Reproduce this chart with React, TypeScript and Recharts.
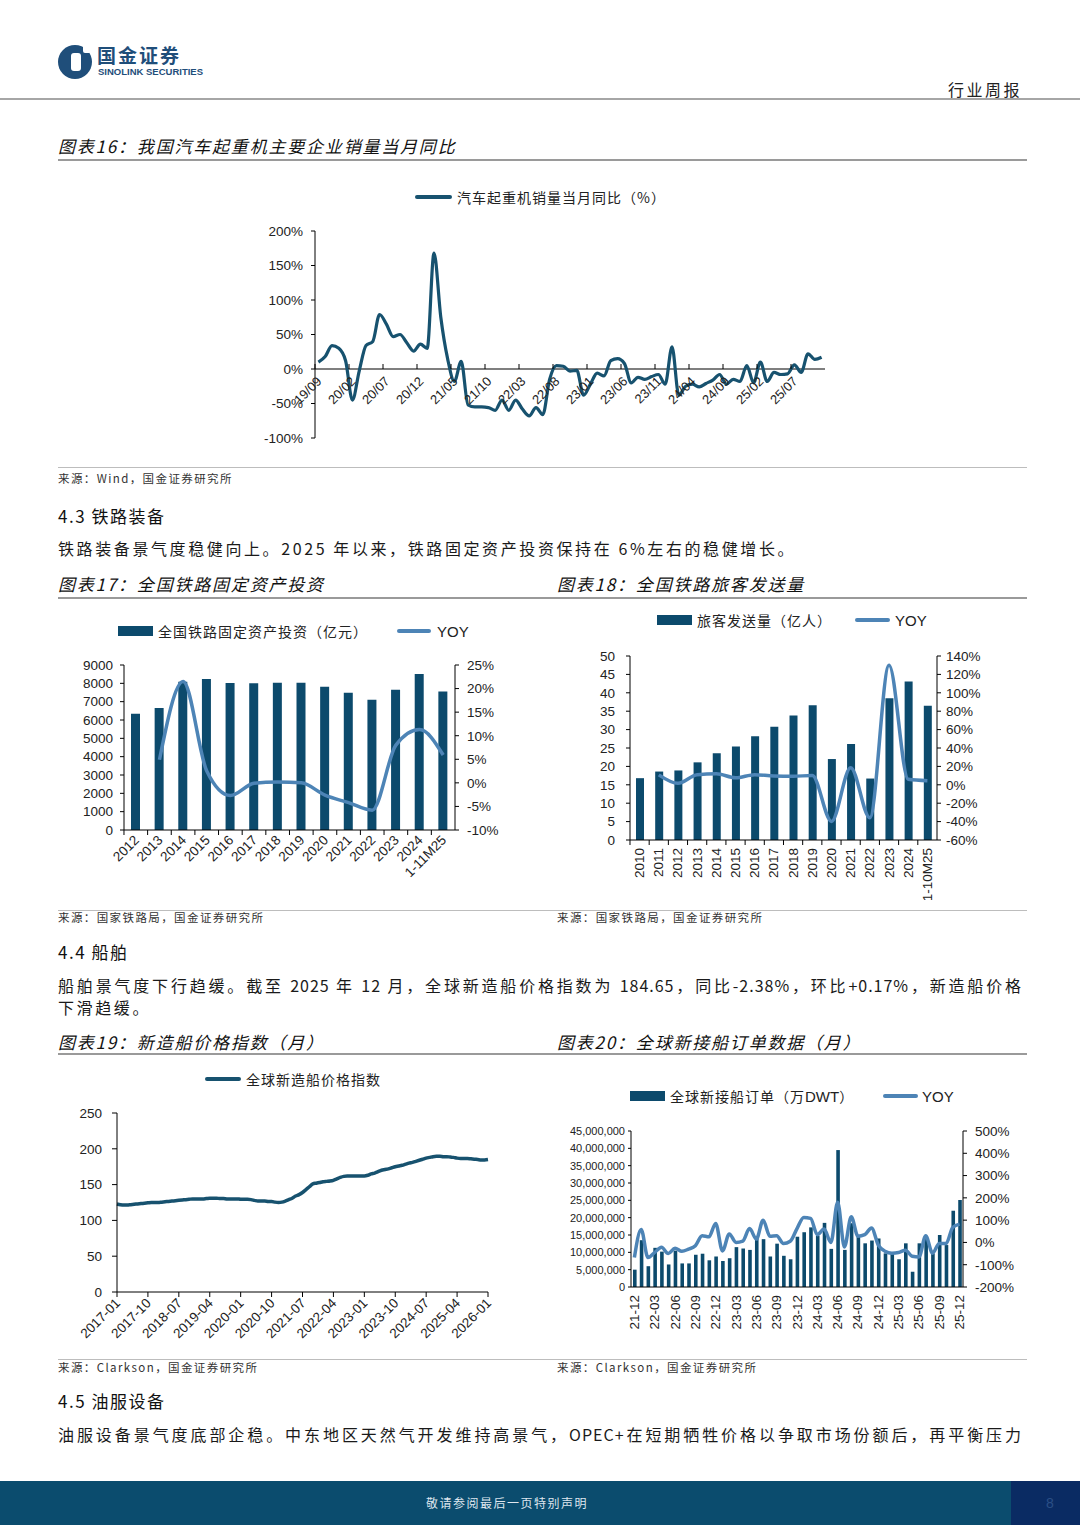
import React from 'react'
import { ComposedChart, Bar, Line, XAxis, YAxis, ReferenceLine } from 'recharts'

const CJK = '"Noto Sans CJK SC", "Noto Sans", sans-serif'
const NUM = '"Liberation Sans", Arial, sans-serif'
const LINE_DARK = '#17526f'
const BAR_DARK = '#0c4a6c'
const YOY_BLUE = '#4d84b6'

const monthSeq = (y0: number, m0: number, n: number, longYear: boolean, sep: string) => {
  const out: string[] = []
  for (let i = 0; i < n; i++) {
    const t = (y0 * 12 + (m0 - 1)) + i
    const y = Math.floor(t / 12)
    const m = (t % 12) + 1
    const ys = longYear ? String(y) : String(y % 100).padStart(2, '0')
    out.push(ys + sep + String(m).padStart(2, '0'))
  }
  return out
}

// 图表16 汽车起重机销量当月同比 (19/09 - 25/11)
const craneMonths = monthSeq(2019, 9, 75, false, '/')
const craneYoy = [
  10, 18, 34, 30, 12, -45, -3, 34, 40, 79,
  65, 47, 50, 38, 26, 36, 30, 168, 75, 15,
  -18, 11, -52, -55, -55, -56, -60, -45, -60, -45,
  -58, -68, -56, -66, -15, 5, 4, -3, -2, -38,
  -22, -6, -10, 12, 15, 8, -20, -12, -15, -11,
  -8, -22, 32, -38, -25, -22, -26, -21, -16, -8,
  -22, -15, -18, 5, -20, 10, -18, -5, -8, -7,
  6, -5, 22, 14, 17,
]
const craneTicks = [-100, -50, 0, 50, 100, 150, 200]

// 图表17 全国铁路固定资产投资
const invYears = ['2012', '2013', '2014', '2015', '2016', '2017', '2018', '2019', '2020', '2021', '2022', '2023', '2024', '1-11M25']
const invValues = [6340, 6650, 8088, 8238, 8015, 8010, 8028, 8029, 7819, 7489, 7109, 7645, 8506, 7550]
const invYoy = [null, 4.9, 21.5, 2.5, -2.7, -0.1, 0.2, 0.0, -2.6, -4.2, -5.8, 8.0, 11.3, 5.9]
const invLeftTicks = [0, 1000, 2000, 3000, 4000, 5000, 6000, 7000, 8000, 9000]
const invRightTicks = [-10, -5, 0, 5, 10, 15, 20, 25]

// 图表18 全国铁路旅客发送量
const paxYears = ['2010', '2011', '2012', '2013', '2014', '2015', '2016', '2017', '2018', '2019', '2020', '2021', '2022', '2023', '2024', '1-10M25']
const paxValues = [16.8, 18.6, 18.9, 21.1, 23.6, 25.4, 28.2, 30.8, 33.8, 36.6, 22.0, 26.1, 16.7, 38.5, 43.1, 36.5]
const paxYoy = [null, 10.8, 1.6, 11.0, 12.0, 7.6, 11.0, 9.6, 9.4, 10.0, -39.8, 18.5, -35.9, 130.0, 6.0, 4.5]
const paxLeftTicks = [0, 5, 10, 15, 20, 25, 30, 35, 40, 45, 50]
const paxRightTicks = [-60, -40, -20, 0, 20, 40, 60, 80, 100, 120, 140]

// 图表19 新造船价格指数 (2017-01 - 2026-01)
const shipMonths = monthSeq(2017, 1, 109, true, '-')
const shipIndex = [
  123, 122, 121.5, 121.5, 122, 122.5, 123, 123.5, 124, 124.5,
  125, 125, 125, 125.5, 126, 126.5, 127, 127.5, 128, 128.5,
  129, 129.5, 130, 130, 130, 130, 130.5, 131, 131, 131,
  130.5, 130.5, 130, 130, 130, 130, 129.5, 129.5, 129.5, 129,
  128, 127, 127, 127, 126.5, 126.5, 125.5, 125, 125.5, 127,
  129, 131, 134, 136, 139, 143, 147, 151, 152, 153,
  154, 154.5, 155, 156, 158, 160, 161.5, 162, 162, 162,
  162, 162, 162, 163, 165, 166, 168, 170, 171, 172,
  173.5, 175, 176, 177, 178.5, 180, 181, 182.5, 184, 185.5,
  187, 188, 189, 189.5, 189.5, 189, 189, 188.5, 188, 187,
  186.5, 186.5, 186.5, 186, 185.5, 185, 184.5, 184.5, 185,
]
const shipTicks = [0, 50, 100, 150, 200, 250]

// 图表20 全球新接船订单 (21-12 - 25-12)
const orderMonths = monthSeq(2021, 12, 49, false, '-')
const orderDwt = [
  5000000, 13500000, 6000000, 11300000, 10200000, 6500000, 10500000, 6800000, 6800000, 9300000,
  9600000, 7700000, 8800000, 7500000, 8300000, 11500000, 11100000, 10700000, 14500000, 13800000,
  8800000, 12500000, 9000000, 8000000, 14500000, 15800000, 17200000, 14800000, 18500000, 11000000,
  39500000, 10700000, 18400000, 14500000, 12600000, 13400000, 14000000, 9700000, 9700000, 8000000,
  12600000, 4400000, 12600000, 14000000, 9700000, 15000000, 12100000, 22000000, 25100000,
]
const orderYoy = [
  -68, 58, -68, -45, -22, -50, -26, -40, -30, -15,
  30, 25, 85, -38, 38, 0, 6, 62, 15, 100,
  28, 30, -5, 5, 62, 112, 108, 35, 60, 0,
  180, -20, 115, 28, 35, 65, -12, -40, -48, -45,
  -35, -62, -65, 30, -48, -5, -5, 68, 82,
]
const orderLeftTicks = [0, 5000000, 10000000, 15000000, 20000000, 25000000, 30000000, 35000000, 40000000, 45000000]
const orderRightTicks = [-200, -100, 0, 100, 200, 300, 400, 500]

const axisTick = { fontSize: 13.5, fill: '#222', fontFamily: NUM }

const CraneTick = (props: any) => {
  const { x, y, payload } = props
  const y0 = y - 69
  const bx = x - 3.4
  return (
    <g>
      <line x1={bx} x2={bx} y1={y0} y2={y0 - 5} stroke="#000" />
      <text x={x + 4} y={y0 + 13} transform={`rotate(-45, ${x + 4}, ${y0 + 13})`}
        textAnchor="end" fontSize={13} fill="#222" fontFamily={NUM}>{payload.value}</text>
    </g>
  )
}

const BandTick = (props: any) => {
  const { x, y, payload, index, bw, vertical, every = 1, mark = true } = props
  const bx = x - bw / 2
  const show = index % every === 0
  return (
    <g>
      {mark && <line x1={bx} x2={bx} y1={y} y2={y + 5} stroke="#000" />}
      {show && (vertical ? (
        <text x={x} y={y + 8} transform={`rotate(-90, ${x}, ${y + 8})`} textAnchor="end"
          dominantBaseline="central" fontSize={13.5} fill="#222" fontFamily={NUM}>{payload.value}</text>
      ) : (
        <text x={x + 4} y={y + 11} transform={`rotate(-45, ${x + 4}, ${y + 11})`} textAnchor="end"
          fontSize={13.5} fill="#222" fontFamily={NUM}>{payload.value}</text>
      ))}
    </g>
  )
}

const PointTick = (props: any) => {
  const { x, y, payload } = props
  return (
    <g>
      <line x1={x} x2={x} y1={y} y2={y + 5} stroke="#000" />
      <text x={x + 4} y={y + 12} transform={`rotate(-45, ${x + 4}, ${y + 12})`} textAnchor="end"
        fontSize={13.5} fill="#222" fontFamily={NUM}>{payload.value}</text>
    </g>
  )
}

const abs = (left: number, top: number, extra: React.CSSProperties = {}): React.CSSProperties => ({
  position: 'absolute', left, top, ...extra,
})

const Txt = ({ x, y, size, children, style }: any) => (
  <div style={{ position: 'absolute', left: x, top: y - size / 2, fontSize: size, lineHeight: `${size}px`, whiteSpace: 'nowrap', ...style }}>
    {children}
  </div>
)

const HLine = ({ y, x1 = 58, x2 = 1027, color = '#9a9a9a', h = 1.5 }: any) => (
  <div style={{ position: 'absolute', left: x1, top: y, width: x2 - x1, height: h, background: color }} />
)

const titleStyle = { fontStyle: 'italic', letterSpacing: '1.8px', color: '#111' }
const srcStyle = { letterSpacing: '1.4px', color: '#333' }
const bodyStyle = { letterSpacing: '2.6px', color: '#1a1a1a' }
const headStyle = { letterSpacing: '1.5px', color: '#111' }

const LegendLine = ({ x, y, color, w = 36 }: any) => (
  <div style={abs(x, y - 1.75, { width: w, height: 3.5, background: color, borderRadius: 2 })} />
)
const LegendBox = ({ x, y }: any) => (
  <div style={abs(x, y - 5, { width: 35, height: 10, background: BAR_DARK })} />
)

const CraneChart = () => {
  const data = craneMonths.map((m, i) => ({ m, v: craneYoy[i] }))
  return (
    <div style={abs(240, 220)}>
      <ComposedChart width={600} height={229} data={data} margin={{ top: 11, right: 15, bottom: 10, left: 15 }}>
        <XAxis dataKey="m" scale="band" interval={4} height={1} tickSize={0} tickMargin={0}
          axisLine={false} tick={<CraneTick />} />
        <YAxis domain={[-100, 200]} ticks={craneTicks} interval={0} width={60}
          tickFormatter={(v: number) => `${v}%`} axisLine={{ stroke: '#000' }} tickLine={{ stroke: '#000' }}
          tickSize={4} tickMargin={8} tick={axisTick} />
        <ReferenceLine y={0} stroke="#000" strokeWidth={1.2} />
        <Line dataKey="v" type="monotone" stroke={LINE_DARK} strokeWidth={3.2} dot={false} isAnimationActive={false} />
      </ComposedChart>
    </div>
  )
}

const InvestChart = () => {
  const data = invYears.map((y, i) => ({ y, inv: invValues[i], yoy: invYoy[i] }))
  return (
    <div style={abs(60, 650)}>
      <ComposedChart width={450} height={240} data={data} margin={{ top: 15, right: 5, bottom: 0, left: 4 }}>
        <XAxis dataKey="y" interval={0} height={60} tickSize={0} tickMargin={0}
          axisLine={{ stroke: '#000' }} tick={<BandTick bw={23.7} />} />
        <YAxis yAxisId="l" domain={[0, 9000]} ticks={invLeftTicks} interval={0} width={60}
          axisLine={{ stroke: '#000' }} tickLine={{ stroke: '#000' }} tickSize={4} tickMargin={7} tick={axisTick} />
        <YAxis yAxisId="r" orientation="right" domain={[-10, 25]} ticks={invRightTicks} interval={0} width={50}
          tickFormatter={(v: number) => `${v}%`} axisLine={{ stroke: '#000' }} tickLine={{ stroke: '#000' }}
          tickSize={4} tickMargin={8} tick={axisTick} />
        <Bar yAxisId="l" dataKey="inv" fill={BAR_DARK} barSize={9} isAnimationActive={false} />
        <Line yAxisId="r" dataKey="yoy" type="monotone" stroke={YOY_BLUE} strokeWidth={3.5} dot={false}
          connectNulls isAnimationActive={false} />
      </ComposedChart>
    </div>
  )
}

const PaxChart = () => {
  const data = paxYears.map((y, i) => ({ y, pax: paxValues[i], yoy: paxYoy[i] }))
  return (
    <div style={abs(575, 640)}>
      <ComposedChart width={422} height={260} data={data} margin={{ top: 16, right: 0, bottom: 0, left: 0 }}>
        <XAxis dataKey="y" interval={0} height={60} tickSize={0} tickMargin={0}
          axisLine={{ stroke: '#000' }} tick={<BandTick bw={19.2} vertical />} />
        <YAxis yAxisId="l" domain={[0, 50]} ticks={paxLeftTicks} interval={0} width={55}
          axisLine={{ stroke: '#000' }} tickLine={{ stroke: '#000' }} tickSize={4} tickMargin={11} tick={axisTick} />
        <YAxis yAxisId="r" orientation="right" domain={[-60, 140]} ticks={paxRightTicks} interval={0} width={60}
          tickFormatter={(v: number) => `${v}%`} axisLine={{ stroke: '#000' }} tickLine={{ stroke: '#000' }}
          tickSize={4} tickMargin={5} tick={axisTick} />
        <Bar yAxisId="l" dataKey="pax" fill={BAR_DARK} barSize={8} isAnimationActive={false} />
        <Line yAxisId="r" dataKey="yoy" type="monotone" stroke={YOY_BLUE} strokeWidth={3.5} dot={false}
          connectNulls isAnimationActive={false} />
      </ComposedChart>
    </div>
  )
}

const ShipIndexChart = () => {
  const data = shipMonths.map((m, i) => ({ m, v: shipIndex[i] }))
  return (
    <div style={abs(57, 1100)}>
      <ComposedChart width={443} height={252} data={data} margin={{ top: 13, right: 12, bottom: 0, left: 0 }}>
        <XAxis dataKey="m" interval={8} height={60} tickSize={0} tickMargin={0} padding={{ left: 0, right: 0 }}
          axisLine={{ stroke: '#000' }} tick={<PointTick />} />
        <YAxis domain={[0, 250]} ticks={shipTicks} interval={0} width={60}
          axisLine={{ stroke: '#000' }} tickLine={{ stroke: '#000' }} tickSize={5} tickMargin={10} tick={axisTick} />
        <Line dataKey="v" type="monotone" stroke={LINE_DARK} strokeWidth={3.5} dot={false} isAnimationActive={false} />
      </ComposedChart>
    </div>
  )
}

const OrderChart = () => {
  const data = orderMonths.map((m, i) => ({ m, dwt: orderDwt[i], yoy: orderYoy[i] }))
  return (
    <div style={abs(560, 1120)}>
      <ComposedChart width={463} height={217} data={data} margin={{ top: 11, right: 0, bottom: 0, left: 0 }}>
        <XAxis dataKey="m" interval={0} height={50} tickSize={0} tickMargin={0}
          axisLine={{ stroke: '#000' }} tick={<BandTick bw={6.78} vertical every={3} mark={false} />} />
        <YAxis yAxisId="l" domain={[0, 45000000]} ticks={orderLeftTicks} interval={0} width={71}
          tickFormatter={(v: number) => v.toLocaleString('en-US')} axisLine={{ stroke: '#000' }}
          tickLine={{ stroke: '#000' }} tickSize={3} tickMargin={3}
          tick={{ fontSize: 11, fill: '#222', fontFamily: NUM }} />
        <YAxis yAxisId="r" orientation="right" domain={[-200, 500]} ticks={orderRightTicks} interval={0} width={60}
          tickFormatter={(v: number) => `${v}%`} axisLine={{ stroke: '#000' }} tickLine={{ stroke: '#000' }}
          tickSize={4} tickMargin={8} tick={axisTick} />
        <Bar yAxisId="l" dataKey="dwt" fill={BAR_DARK} barSize={3.6} isAnimationActive={false} />
        <Line yAxisId="r" dataKey="yoy" type="monotone" stroke={YOY_BLUE} strokeWidth={3.5} dot={false}
          isAnimationActive={false} />
      </ComposedChart>
    </div>
  )
}

const Logo = () => (
  <svg width={40} height={40} style={abs(56, 42)}>
    <circle cx={19} cy={20} r={17} fill="#1f4e7a" />
    <rect x={15} y={11} width={10} height={18} rx={3} fill="#fff" />
    <rect x={27} y={3} width={8} height={8} rx={2} fill="#fff" />
  </svg>
)

export default function App() {
  return (
    <div style={{ position: 'absolute', left: 0, top: 0, width: 1080, height: 1527, background: '#fff', fontFamily: CJK, overflow: 'hidden' }}>
      {/* 页眉 */}
      <Logo />
      <Txt x={97} y={54} size={19} style={{ fontWeight: 700, color: '#1f4e7a', letterSpacing: '2px' }}>国金证券</Txt>
      <Txt x={98} y={72} size={9.5} style={{ fontWeight: 700, color: '#1f4e7a', fontFamily: NUM }}>SINOLINK SECURITIES</Txt>
      <Txt x={948} y={89} size={16} style={{ letterSpacing: '2.5px', color: '#222' }}>行业周报</Txt>
      <HLine y={98} x1={0} x2={1080} color="#a6a6a6" h={2} />

      {/* 图表16 */}
      <Txt x={58} y={145} size={17} style={titleStyle}>图表16：我国汽车起重机主要企业销量当月同比</Txt>
      <HLine y={159} />
      <LegendLine x={415} y={197} color={LINE_DARK} w={37} />
      <Txt x={457} y={197} size={14} style={{ letterSpacing: '1px', color: '#222' }}>汽车起重机销量当月同比（%）</Txt>
      <CraneChart />
      <HLine y={467} color="#bdbdbd" h={1} />
      <Txt x={58} y={479} size={11.5} style={srcStyle}>来源：Wind，国金证券研究所</Txt>

      {/* 4.3 */}
      <Txt x={58} y={515} size={17} style={headStyle}>4.3 铁路装备</Txt>
      <Txt x={58} y={548} size={16} style={bodyStyle}>铁路装备景气度稳健向上。2025 年以来，铁路固定资产投资保持在 6%左右的稳健增长。</Txt>
      <Txt x={58} y={583} size={17} style={titleStyle}>图表17：全国铁路固定资产投资</Txt>
      <Txt x={557} y={583} size={17} style={titleStyle}>图表18：全国铁路旅客发送量</Txt>
      <HLine y={597} />

      <LegendBox x={118} y={631} />
      <Txt x={158} y={631} size={14} style={{ letterSpacing: '1px', color: '#222' }}>全国铁路固定资产投资（亿元）</Txt>
      <LegendLine x={397} y={631} color={YOY_BLUE} w={34} />
      <Txt x={437} y={631} size={15} style={{ fontFamily: NUM, color: '#222' }}>YOY</Txt>
      <InvestChart />

      <LegendBox x={657} y={620} />
      <Txt x={697} y={620} size={14} style={{ letterSpacing: '1px', color: '#222' }}>旅客发送量（亿人）</Txt>
      <LegendLine x={855} y={620} color={YOY_BLUE} w={35} />
      <Txt x={895} y={620} size={15} style={{ fontFamily: NUM, color: '#222' }}>YOY</Txt>
      <PaxChart />

      <HLine y={910} color="#bdbdbd" h={1} />
      <Txt x={58} y={918} size={11.5} style={srcStyle}>来源：国家铁路局，国金证券研究所</Txt>
      <Txt x={557} y={918} size={11.5} style={srcStyle}>来源：国家铁路局，国金证券研究所</Txt>

      {/* 4.4 */}
      <Txt x={58} y={951} size={17} style={headStyle}>4.4 船舶</Txt>
      <div style={abs(58, 977, { width: 964, fontSize: 16, lineHeight: '16px', textAlign: 'justify', textAlignLast: 'justify', letterSpacing: '1px', color: '#1a1a1a' })}>
        船舶景气度下行趋缓。截至 2025 年 12 月，全球新造船价格指数为 184.65，同比-2.38%，环比+0.17%，新造船价格
      </div>
      <Txt x={58} y={1007} size={16} style={bodyStyle}>下滑趋缓。</Txt>
      <Txt x={58} y={1041} size={17} style={titleStyle}>图表19：新造船价格指数（月）</Txt>
      <Txt x={557} y={1041} size={17} style={titleStyle}>图表20：全球新接船订单数据（月）</Txt>
      <HLine y={1053} />

      <LegendLine x={205} y={1079} color={LINE_DARK} w={36} />
      <Txt x={246} y={1079} size={14} style={{ letterSpacing: '1px', color: '#222' }}>全球新造船价格指数</Txt>
      <ShipIndexChart />

      <LegendBox x={630} y={1096} />
      <Txt x={670} y={1096} size={14} style={{ letterSpacing: '1px', color: '#222' }}>全球新接船订单（万<span style={{ fontFamily: NUM, fontSize: 15, letterSpacing: 0 }}>DWT</span>）</Txt>
      <LegendLine x={883} y={1096} color={YOY_BLUE} w={35} />
      <Txt x={922} y={1096} size={15} style={{ fontFamily: NUM, color: '#222' }}>YOY</Txt>
      <OrderChart />

      <HLine y={1359} color="#bdbdbd" h={1} />
      <Txt x={58} y={1368} size={11.5} style={srcStyle}>来源：Clarkson，国金证券研究所</Txt>
      <Txt x={557} y={1368} size={11.5} style={srcStyle}>来源：Clarkson，国金证券研究所</Txt>

      {/* 4.5 */}
      <Txt x={58} y={1400} size={17} style={headStyle}>4.5 油服设备</Txt>
      <div style={abs(58, 1426, { width: 964, fontSize: 16, lineHeight: '16px', textAlign: 'justify', textAlignLast: 'justify', letterSpacing: '1px', color: '#1a1a1a' })}>
        油服设备景气度底部企稳。中东地区天然气开发维持高景气，OPEC+在短期牺牲价格以争取市场份额后，再平衡压力
      </div>

      {/* 页脚 */}
      <div style={abs(0, 1481, { width: 1080, height: 44, background: '#0b4c6e' })} />
      <div style={abs(1011, 1481, { width: 69, height: 44, background: '#0a2b63' })} />
      <Txt x={426} y={1503} size={12} style={{ color: '#dfe6ee', letterSpacing: '1.5px' }}>敬请参阅最后一页特别声明</Txt>
      <Txt x={1046} y={1503} size={14} style={{ color: '#2a4f86', fontFamily: NUM }}>8</Txt>
    </div>
  )
}
